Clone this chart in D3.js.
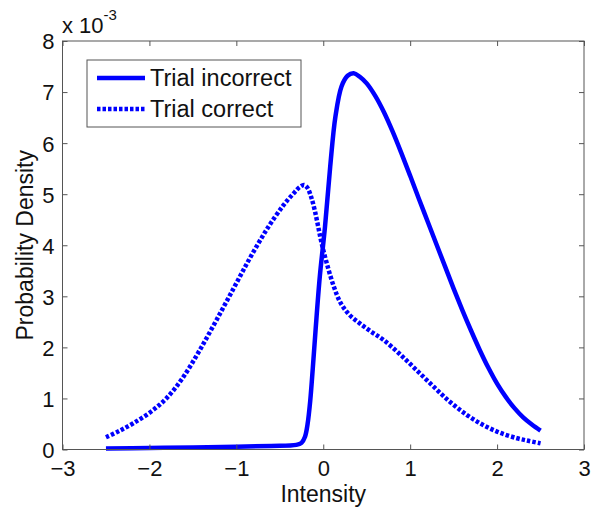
<!DOCTYPE html>
<html><head><meta charset="utf-8">
<script src="https://cdn.jsdelivr.net/npm/d3@7/dist/d3.min.js"></script>
<style>body{margin:0;background:#fff}svg{display:block}text{font-family:"Liberation Sans",Arial,sans-serif;fill:#111}</style>
</head><body><svg id="c" width="594" height="510"></svg>
<script>
// values in units of 1e-3
const incorrectX = [-2.5,-2.0,-1.5,-1.0,-0.6,-0.31,-0.25,-0.21,-0.18,-0.15,-0.12,-0.09,-0.04,0.02,0.08,0.14,0.21,0.28,0.35,0.42,0.5,0.6,0.7,0.8,0.9,1.0,1.1,1.2,1.3,1.4,1.5,1.6,1.7,1.8,1.9,2.0,2.1,2.2,2.3,2.4,2.5];
const incorrectY = [0.02,0.03,0.04,0.055,0.07,0.09,0.13,0.25,0.5,0.95,1.6,2.3,3.38,4.36,5.54,6.52,7.11,7.32,7.37,7.3,7.17,6.92,6.6,6.22,5.8,5.36,4.91,4.47,4.03,3.59,3.15,2.73,2.33,1.95,1.6,1.29,1.03,0.81,0.63,0.49,0.37];
const correctX = [-2.5,-2.35,-2.19,-1.99,-1.80,-1.61,-1.42,-1.23,-1.03,-0.84,-0.65,-0.46,-0.34,-0.27,-0.22,-0.18,-0.14,-0.1,-0.06,-0.02,0.04,0.12,0.2,0.3,0.42,0.55,0.69,0.88,1.07,1.27,1.46,1.65,1.84,2.03,2.23,2.36,2.5];
const correctY = [0.24,0.36,0.51,0.73,1.01,1.42,1.95,2.53,3.16,3.76,4.31,4.78,5.02,5.14,5.18,5.12,4.95,4.7,4.38,4.05,3.65,3.2,2.87,2.64,2.47,2.31,2.15,1.87,1.56,1.23,0.93,0.68,0.48,0.33,0.22,0.17,0.12];
const xTicks = [-3,-2,-1,0,1,2,3];
const yTicks = [0,1,2,3,4,5,6,7,8];
const seriesNames = ["Trial incorrect","Trial correct"];

const svg = d3.select("#c");
const L=62.5, R=584, T=41, B=449.5;
const x = d3.scaleLinear().domain([-3,3]).range([L,R]);
const y = d3.scaleLinear().domain([0,8]).range([B,T]);
const boxColor="#555";
const FS="22px";

const g = svg.append("g");
const line = d3.line().x(d=>x(d[0])).y(d=>y(d[1])).curve(d3.curveCatmullRom.alpha(0.5));
const inc = incorrectX.map((v,i)=>[v,incorrectY[i]]);
const cor = correctX.map((v,i)=>[v,correctY[i]]);
g.append("path").attr("d",line(cor)).attr("fill","none").attr("stroke","#0000ff").attr("stroke-width",4.5).attr("stroke-dasharray","3.5,2");
g.append("path").attr("d",line(inc)).attr("fill","none").attr("stroke","#0000ff").attr("stroke-width",4.5).attr("stroke-linejoin","round");

svg.append("rect").attr("x",L).attr("y",T).attr("width",R-L).attr("height",B-T).attr("fill","none").attr("stroke",boxColor).attr("stroke-width",1);

const xa = d3.axisBottom(x).tickValues(xTicks).tickSize(-5).tickPadding(11).tickFormat(d3.format("d"));
const ya = d3.axisLeft(y).tickValues(yTicks).tickSize(-5).tickPadding(8).tickFormat(d3.format("d"));
const gx = svg.append("g").attr("transform",`translate(0,${B})`).call(xa);
const gy = svg.append("g").attr("transform",`translate(${L},0)`).call(ya);
const xt = svg.append("g").attr("transform",`translate(0,${T})`).call(d3.axisTop(x).tickValues(xTicks).tickSize(-5).tickFormat(""));
const yr = svg.append("g").attr("transform",`translate(${R},0)`).call(d3.axisRight(y).tickValues(yTicks).tickSize(-5).tickFormat(""));
[gx,gy,xt,yr].forEach(a=>{a.select(".domain").remove();a.selectAll("line").attr("stroke",boxColor);a.selectAll("text").style("font-size",FS).attr("fill","#111").style("font-family","Liberation Sans, Arial, sans-serif");});
gx.selectAll("text").attr("dy","0.71em");
gy.selectAll("text").attr("dy","0.36em");

const ex = svg.append("text").attr("x",62).attr("y",33).style("font-size",FS);
ex.append("tspan").text("x 10");
ex.append("tspan").attr("dy",-13).style("font-size","15px").text("-3");

svg.append("text").attr("x",x(0)).attr("y",502).attr("text-anchor","middle").style("font-size","23px").text("Intensity");
svg.append("text").attr("transform",`translate(33,${(T+B)/2}) rotate(-90)`).attr("text-anchor","middle").style("font-size","23px").text("Probability Density");

const lg = svg.append("g");
lg.append("rect").attr("x",87).attr("y",60).attr("width",214).attr("height",67).attr("fill","#fff").attr("stroke",boxColor).attr("stroke-width",1);
const rows=[78,109];
lg.append("line").attr("x1",97).attr("x2",145).attr("y1",rows[0]).attr("y2",rows[0]).attr("stroke","#0000ff").attr("stroke-width",4.5);
lg.append("line").attr("x1",97).attr("x2",145).attr("y1",rows[1]).attr("y2",rows[1]).attr("stroke","#0000ff").attr("stroke-width",4.5).attr("stroke-dasharray","3.5,2");
seriesNames.forEach((n,i)=>lg.append("text").attr("x",150).attr("y",rows[i]).attr("dy","0.36em").style("font-size","23.5px").text(n));
</script></body></html>
